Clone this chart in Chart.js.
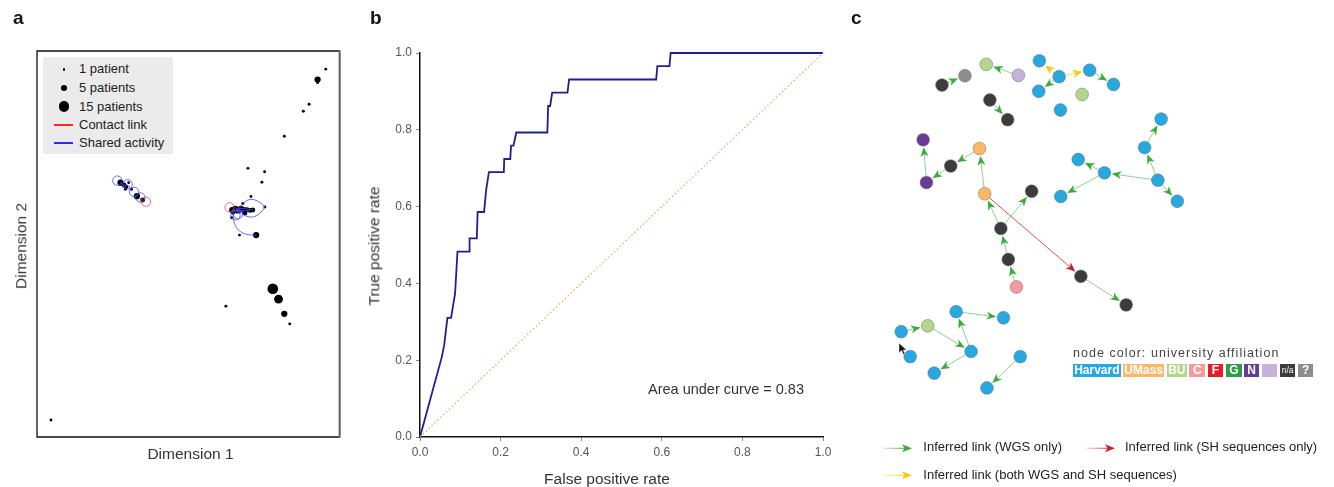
<!DOCTYPE html>
<html>
<head>
<meta charset="utf-8">
<script src="https://cdn.jsdelivr.net/npm/chart.js@4.4.0/dist/chart.umd.min.js"></script>
<style>
html,body{margin:0;padding:0;background:#fff;}
body{position:relative;width:1334px;height:487px;overflow:hidden;font-family:"Liberation Sans",Arial,Helvetica,sans-serif;}
canvas{position:absolute;top:0;}
.t{position:absolute;white-space:nowrap;line-height:1;}
.letter{font-size:19px;font-weight:bold;color:#111;top:8px;}
.axt{font-size:15.5px;color:#333;}
.lg{font-size:13px;color:#222;}
.box{position:absolute;height:13px;top:364.3px;color:#fff;font-weight:bold;font-size:12px;line-height:13px;text-align:center;overflow:hidden;}
.dot{position:absolute;background:#000;border-radius:50%;}
</style>
</head>
<body>
<canvas id="ca" width="345" height="487" style="left:0;width:345px;height:487px"></canvas>
<canvas id="cb" width="500" height="487" style="left:340px;width:500px;height:487px"></canvas>
<canvas id="cc" width="494" height="487" style="left:840px;width:494px;height:487px"></canvas>

<div class="t letter" style="left:13px">a</div>
<div class="t letter" style="left:370px">b</div>
<div class="t letter" style="left:851px">c</div>

<!-- panel a texts -->
<div class="t axt" style="left:190.5px;top:446px;transform:translateX(-50%)">Dimension 1</div>
<div class="t axt" style="left:20.9px;top:245.8px;transform:translate(-50%,-50%) rotate(-90deg)">Dimension 2</div>
<div id="legA" style="position:absolute;left:43px;top:57px;width:130px;height:97px;background:#ebebeb"></div>

<!-- panel b texts -->
<div class="t axt" style="left:607px;top:471px;transform:translateX(-50%)">False positive rate</div>
<div class="t axt" style="left:374px;top:245.5px;transform:translate(-50%,-50%) rotate(-90deg)">True positive rate</div>
<div class="t" style="left:648px;top:381.7px;font-size:14.5px;color:#333">Area under curve = 0.83</div>

<!-- panel c texts -->
<div class="t" style="left:1073px;top:346.5px;font-size:12.5px;letter-spacing:1.05px;color:#444">node color: university affiliation</div>
<div id="boxes"></div>

<svg style="position:absolute;left:880px;top:443px" width="36" height="11">
  <defs><linearGradient id="gg" gradientUnits="userSpaceOnUse" x1="3" y1="0" x2="26" y2="0"><stop offset="0" stop-color="#3faa3f" stop-opacity="0.2"/><stop offset="1" stop-color="#3faa3f" stop-opacity="0.9"/></linearGradient></defs>
  <line x1="3" y1="5.3" x2="26" y2="5.3" stroke="url(#gg)" stroke-width="1.2"/>
  <polygon points="32,5.3 22,1.3 24.5,5.3 22,9.3" fill="#3aa83a"/>
</svg>
<div class="t lg" style="left:923.3px;top:440px">Inferred link (WGS only)</div>
<svg style="position:absolute;left:1083px;top:443px" width="36" height="11">
  <defs><linearGradient id="gr" gradientUnits="userSpaceOnUse" x1="3" y1="0" x2="26" y2="0"><stop offset="0" stop-color="#d43a3a" stop-opacity="0.2"/><stop offset="1" stop-color="#d43a3a" stop-opacity="0.9"/></linearGradient></defs>
  <line x1="3" y1="5.3" x2="26" y2="5.3" stroke="url(#gr)" stroke-width="1.2"/>
  <polygon points="32,5.3 22,1.3 24.5,5.3 22,9.3" fill="#c8202a"/>
</svg>
<div class="t lg" style="left:1125px;top:440px">Inferred link (SH sequences only)</div>
<svg style="position:absolute;left:880px;top:470px" width="36" height="11">
  <defs><linearGradient id="gy" gradientUnits="userSpaceOnUse" x1="3" y1="0" x2="26" y2="0"><stop offset="0" stop-color="#f2cf1a" stop-opacity="0.2"/><stop offset="1" stop-color="#f2cf1a" stop-opacity="0.9"/></linearGradient></defs>
  <line x1="3" y1="5.3" x2="26" y2="5.3" stroke="url(#gy)" stroke-width="1.2"/>
  <polygon points="32,5.3 22,1.3 24.5,5.3 22,9.3" fill="#f2cc10"/>
</svg>
<div class="t lg" style="left:923.3px;top:467.5px">Inferred link (both WGS and SH sequences)</div>
<svg style="position:absolute;left:898px;top:341.5px" width="10" height="14">
  <polygon points="1,1 1,11 3.6,8.6 5.4,12.6 7,11.9 5.3,8 8.6,8" fill="#111" stroke="#fff" stroke-width="0.5"/>
</svg>

<script>
// ---------------- Panel a : MDS of patients ----------------
const dim1 = [95.4, 92.7, 92.7, 89.9, 88.0, 81.7, 69.7, 75.2, 74.3, 70.7, 75.3, 68.0, 64.3, 66.9, 72.4, 77.9, 79.8, 81.7, 83.5, 62.4, 4.6, 64.5, 65.5, 66.4, 67.4, 68.4, 69.4, 70.4, 71.3, 64.8, 68.7, 27.6, 28.7, 29.4, 30.3, 29.2, 31.2, 33.0, 34.9];
const dim2 = [95.3, 92.6, 91.8, 86.2, 84.4, 77.9, 69.6, 68.7, 66.0, 62.3, 59.6, 60.5, 56.8, 52.3, 52.3, 38.4, 35.7, 31.9, 29.3, 33.9, 4.4, 58.8, 59.1, 58.7, 59.1, 58.8, 58.9, 58.7, 58.8, 58.2, 58.0, 65.9, 65.3, 64.8, 65.9, 64.2, 64.2, 62.4, 61.4];
const patients = [1,5,1,1,1,1,1,1,1,1, 1,1,1,1,5,15,10,5,1,1, 1,5,5,5,5,5,3,3,3,3, 3,5,3,3,1,1,1,5,3];
// self links (loops) : node (1-based), link type, side angle (deg)
const loopNode = [32, 33, 37, 38, 39, 22, 30, 24];
const loopType = ['S','S','S','S','C','C','S','S'];
const loopSide = [-148, -9, 46, 21, 28, -135, 51, 90];
// links between patients : from, to (1-based), type, curvature
const linkFrom = [24, 24, 30, 22, 23, 22, 32, 33];
const linkTo   = [11, 11, 15, 28, 29, 26, 34, 37];
const linkType = ['S','S','S','S','S','S','S','S'];
const linkBend = [-0.69, 0.62, 0.55, 0.08, -0.12, 0.25, 0.3, -0.3];
const legendPatients = [1, 5, 15];
const legendLabels = ['1 patient', '5 patients', '15 patients', 'Contact link', 'Shared activity'];

const sizeOf = p => 1.45 * Math.pow(p, 0.48);
const linkColor = {S: 'rgba(70,70,255,0.8)', C: 'rgba(255,70,70,0.8)'};

const boxPlugin = {
  id: 'boxA',
  beforeDatasetsDraw(chart) {
    const {ctx, chartArea: a} = chart;
    ctx.save();
    ctx.strokeStyle = '#111'; ctx.lineWidth = 1.3;
    ctx.beginPath();
    ctx.moveTo(a.right, a.top); ctx.lineTo(a.left, a.top); ctx.lineTo(a.left, a.bottom); ctx.lineTo(a.right, a.bottom);
    ctx.stroke();
    ctx.strokeStyle = '#6a6a6a'; ctx.lineWidth = 2.2;
    ctx.beginPath(); ctx.moveTo(a.right, a.top - 0.6); ctx.lineTo(a.right, a.bottom + 0.6); ctx.stroke();
    ctx.restore();
  },
  afterDatasetsDraw(chart) {
    const {ctx, scales: {x, y}} = chart;
    ctx.save();
    ctx.lineWidth = 1;
    for (let i = 0; i < linkFrom.length; i++) {
      const a = linkFrom[i] - 1, b = linkTo[i] - 1;
      const ax = x.getPixelForValue(dim1[a]), ay = y.getPixelForValue(dim2[a]);
      const bx = x.getPixelForValue(dim1[b]), by = y.getPixelForValue(dim2[b]);
      const dx = bx - ax, dy = by - ay, L = Math.hypot(dx, dy) || 1;
      const cx = (ax + bx) / 2 - dy / L * linkBend[i] * L, cy = (ay + by) / 2 + dx / L * linkBend[i] * L;
      ctx.strokeStyle = linkColor[linkType[i]];
      ctx.beginPath(); ctx.moveTo(ax, ay); ctx.quadraticCurveTo(cx, cy, bx, by); ctx.stroke();
    }
    const R = 4.7;
    for (let i = 0; i < loopNode.length; i++) {
      const n = loopNode[i] - 1;
      const px = x.getPixelForValue(dim1[n]), py = y.getPixelForValue(dim2[n]);
      const ang = loopSide[i] * Math.PI / 180;
      ctx.strokeStyle = linkColor[loopType[i]];
      ctx.beginPath(); ctx.arc(px + Math.cos(ang) * R * 0.8, py + Math.sin(ang) * R * 0.8, R, 0, Math.PI * 2); ctx.stroke();
    }
    ctx.restore();
  }
};

new Chart(document.getElementById('ca'), {
  type: 'scatter',
  data: { datasets: [{
    data: dim1.map((v, i) => ({x: v, y: dim2[i]})),
    pointRadius: c => sizeOf(patients[c.dataIndex]),
    pointBackgroundColor: '#000', pointBorderWidth: 0, pointHoverRadius: 0
  }]},
  options: {
    responsive: false, animation: false, events: [],
    layout: {padding: {left: 37, top: 51, right: 1, bottom: 50}},
    plugins: {legend: {display: false}, tooltip: {enabled: false}},
    scales: {
      x: {type: 'linear', min: 0, max: 100, display: false},
      y: {type: 'linear', min: 0, max: 100, display: false}
    }
  },
  plugins: [boxPlugin]
});

// legend of panel a
(function () {
  const leg = document.getElementById('legA');
  const rows = [12.3, 31, 49.5, 67.7, 86];
  legendLabels.forEach((lab, i) => {
    const yc = rows[i];
    if (i < 3) {
      const r = sizeOf(legendPatients[i]);
      const d = document.createElement('div');
      d.className = 'dot';
      d.style.cssText = `left:${21 - r}px;top:${yc - r}px;width:${2 * r}px;height:${2 * r}px`;
      leg.appendChild(d);
    } else {
      const l = document.createElement('div');
      l.style.cssText = `position:absolute;left:11px;top:${yc - 1}px;width:19px;height:2px;background:${i === 3 ? '#ff2a2a' : '#2a2aff'}`;
      leg.appendChild(l);
    }
    const t = document.createElement('div');
    t.className = 't lg';
    t.style.left = '36px'; t.style.top = (yc - 7) + 'px';
    t.textContent = lab;
    leg.appendChild(t);
  });
})();

// ---------------- Panel b : ROC curve ----------------
const fpr = [0, 0.054, 0.060, 0.068, 0.077, 0.087, 0.093, 0.122, 0.123, 0.141, 0.143, 0.159, 0.164, 0.171, 0.208, 0.209, 0.224, 0.226, 0.232, 0.239, 0.316, 0.318, 0.323, 0.328, 0.366, 0.370, 0.586, 0.589, 0.619, 0.622, 1.0];
const tpr = [0, 0.208, 0.239, 0.310, 0.310, 0.373, 0.483, 0.483, 0.517, 0.517, 0.586, 0.586, 0.642, 0.690, 0.690, 0.724, 0.724, 0.759, 0.759, 0.793, 0.793, 0.862, 0.862, 0.897, 0.897, 0.931, 0.931, 0.966, 0.966, 1.0, 1.0];
const chanceX = [0, 1];
const chanceY = [0, 1];
const rocTicks = [0.0, 0.2, 0.4, 0.6, 0.8, 1.0];

const tickFont = {family: '"Liberation Sans", Arial, sans-serif', size: 12};
new Chart(document.getElementById('cb'), {
  type: 'scatter',
  data: { datasets: [
    { data: chanceX.map((v, i) => ({x: v, y: chanceY[i]})), showLine: true, borderColor: '#f5a24a', borderWidth: 1.2, borderDash: [1.5, 2.5], pointRadius: 0, clip: false },
    { data: fpr.map((v, i) => ({x: v, y: tpr[i]})), showLine: true, borderColor: '#1e218c', borderWidth: 1.8, pointRadius: 0, clip: false }
  ]},
  options: {
    responsive: false, animation: false, events: [],
    layout: {padding: {left: 0, right: 17, top: 53, bottom: 0}},
    plugins: {legend: {display: false}, tooltip: {enabled: false}},
    scales: {
      x: {
        type: 'linear', min: 0, max: 1, position: 'bottom',
        afterFit: s => { s.height = 50; },
        afterBuildTicks: s => { s.ticks = rocTicks.map(v => ({value: v})); },
        border: {color: '#111', width: 1.5},
        grid: {drawOnChartArea: false, drawTicks: true, tickLength: 4, color: '#888'},
        ticks: {padding: 4, color: '#555', font: tickFont, maxRotation: 0, callback: v => Number(v).toFixed(1)}
      },
      y: {
        type: 'linear', min: 0, max: 1, position: 'left',
        afterFit: s => { s.width = 80; },
        afterBuildTicks: s => { s.ticks = rocTicks.map(v => ({value: v})); },
        border: {color: '#111', width: 1.5},
        grid: {drawOnChartArea: false, drawTicks: true, tickLength: 4, color: '#888'},
        ticks: {padding: 4, color: '#555', font: tickFont, callback: v => Number(v).toFixed(1)}
      }
    }
  }
});

// ---------------- Panel c : transmission network ----------------
const nodeX = [97.7, 121.3, 143.3, 176.3, 198, 218.3, 197.3, 249.7, 274.3, 242, 219.7, 147, 165.3, 78.3, 136.3, 106.7, 81.7, 141.7, 190, 158.3, 166, 174.3, 240.7, 287.3, 323.3, 306.3, 238, 265, 320, 220, 340, 112.3, 161, 55.7, 83, 65, 127.7, 89.7, 178.3, 144];
const nodeY = [80.3, 70.7, 59, 70.3, 55.3, 71.7, 86.7, 65, 79.7, 90, 106, 95.7, 116, 136.7, 145.7, 163.7, 180.7, 192.3, 189.7, 228, 260, 288.3, 277.3, 306.7, 115.3, 144.7, 157, 170.7, 178.3, 195, 200, 313.7, 320, 334.3, 328.3, 360, 354.7, 377, 360, 392.3];
const nodeAff = ['na','unk','BU','lav','H','H','H','H','H','BU','H','na','na','N','UMass','na','N','UMass','na','na','na','C','na','na','H','H','H','H','H','H','H','H','H','H','BU','H','H','H','H','H'];
const edgeFrom = [1,4,6,6,6,8,12,17,15,16,18,20,20,21,22,18,23,26,29,29,28,28,29,32,34,35,37,37,39];
const edgeTo   = [2,3,5,8,7,9,13,14,16,17,15,18,19,20,21,23,24,25,26,28,27,30,31,33,35,37,32,38,40];
const edgeType = ['W','W','B','B','W','W','W','W','W','W','W','W','W','W','W','S','W','W','W','W','W','W','W','W','W','W','W','W','W'];
const affCodes  = ['H','UMass','BU','C','F','G','N','lav','na','unk'];
const affLabels = ['Harvard','UMass','BU','C','F','G','N','','n/a','?'];

const affColor = {H:'#27a8e0', UMass:'#fcb867', BU:'#b2d78b', C:'#f29a9c', F:'#e01f29', G:'#2f9c46', N:'#6a3b96', lav:'#c6b2d8', na:'#3c3c3c', unk:'#8d8d8d'};
const edgeStyle = {
  W: {line: 'rgba(70,175,70,0.6)', head: '#3daa3d'},
  S: {line: 'rgba(214,50,50,0.85)', head: '#c81e26'},
  B: {line: 'rgba(242,205,25,0.75)', head: '#f3cd0e'}
};
const NODE_R = 6.4;

function arrowHead(ctx, tx, ty, ux, uy, color) {
  const len = 9.5, half = 4;
  const bx = tx - ux * len, by = ty - uy * len;
  const nx = tx - ux * len * 0.72, ny = ty - uy * len * 0.72;
  const px = -uy, py = ux;
  ctx.fillStyle = color;
  ctx.beginPath();
  ctx.moveTo(tx, ty);
  ctx.lineTo(bx + px * half, by + py * half);
  ctx.lineTo(nx, ny);
  ctx.lineTo(bx - px * half, by - py * half);
  ctx.closePath(); ctx.fill();
}

const netPlugin = {
  id: 'net',
  beforeDatasetsDraw(chart) {
    const {ctx, scales: {x, y}} = chart;
    ctx.save();
    for (let i = 0; i < edgeFrom.length; i++) {
      const a = edgeFrom[i] - 1, b = edgeTo[i] - 1;
      const ax = x.getPixelForValue(nodeX[a]), ay = y.getPixelForValue(nodeY[a]);
      const bx = x.getPixelForValue(nodeX[b]), by = y.getPixelForValue(nodeY[b]);
      const dx = bx - ax, dy = by - ay, L = Math.hypot(dx, dy);
      const ux = dx / L, uy = dy / L;
      const st = edgeStyle[edgeType[i]];
      ctx.strokeStyle = st.line; ctx.lineWidth = 1;
      ctx.beginPath(); ctx.moveTo(ax, ay); ctx.lineTo(bx - ux * (NODE_R + 2), by - uy * (NODE_R + 2)); ctx.stroke();
      arrowHead(ctx, bx - ux * (NODE_R + 1), by - uy * (NODE_R + 1), ux, uy, st.head);
    }
    ctx.restore();
  }
};

new Chart(document.getElementById('cc'), {
  type: 'scatter',
  data: { datasets: [{
    data: nodeX.map((v, i) => ({x: v, y: nodeY[i]})),
    pointRadius: NODE_R, pointHoverRadius: NODE_R,
    pointBackgroundColor: nodeX.map((v, i) => affColor[nodeAff[i]]),
    pointBorderColor: 'rgba(110,110,110,0.7)', pointBorderWidth: 0.7
  }]},
  options: {
    responsive: false, animation: false, events: [],
    layout: {padding: 0},
    plugins: {legend: {display: false}, tooltip: {enabled: false}},
    scales: {
      x: {type: 'linear', min: 0, max: 494, display: false},
      y: {type: 'linear', min: 0, max: 487, reverse: true, display: false}
    }
  },
  plugins: [netPlugin]
});

// colour key of panel c
(function () {
  const lefts  = [1073, 1123.3, 1166.7, 1189.3, 1207.7, 1226, 1243.7, 1262, 1280, 1298];
  const widths = [47.7, 40.7, 20.3, 16, 15.6, 15.7, 15.6, 15.3, 15.3, 15.3];
  const host = document.getElementById('boxes');
  affCodes.forEach((c, i) => {
    const d = document.createElement('div');
    d.className = 'box';
    d.style.left = lefts[i] + 'px'; d.style.width = widths[i] + 'px';
    d.style.background = affColor[c];
    if (affLabels[i] === 'n/a') { d.style.fontSize = '8.5px'; d.style.fontWeight = 'normal'; }
    d.textContent = affLabels[i];
    host.appendChild(d);
  });
})();
</script>
</body>
</html>
